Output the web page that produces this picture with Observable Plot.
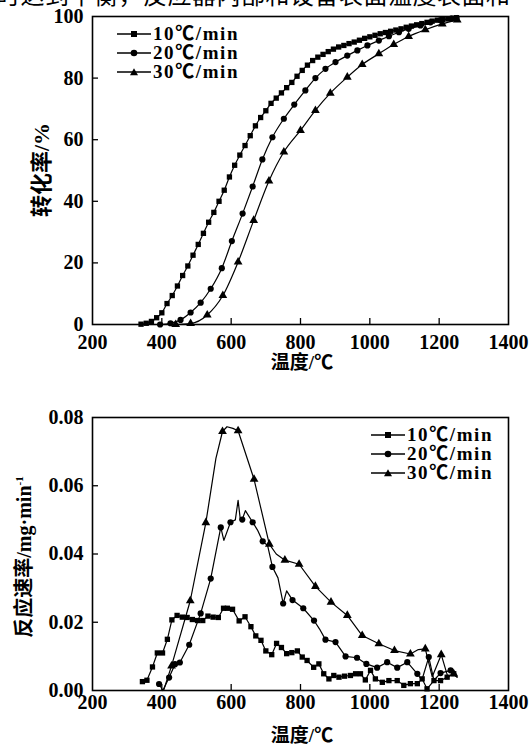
<!DOCTYPE html>
<html>
<head>
<meta charset="utf-8">
<script src="https://cdn.jsdelivr.net/npm/d3@7"></script>
<script src="https://cdn.jsdelivr.net/npm/@observablehq/plot@0.6"></script>
<style>
  html, body { margin: 0; padding: 0; background: #fff; overflow: hidden; }
  #wrap { position: relative; width: 532px; height: 745px; overflow: hidden; background: #fff; }
  .serif { font-family: "Liberation Serif", "Times New Roman", "Noto Sans CJK SC", serif; font-weight: bold; color: #000; line-height: 1; }
  .abs { position: absolute; white-space: nowrap; }
  .legend-row { display: flex; align-items: center; height: 19px; font-size: 19px; line-height: 18px; letter-spacing: 1.6px; }
  .ylab { transform: translate(-50%, -50%) rotate(-90deg); }
  .xlab { transform: translate(-50%, 0); font-size: 19px; }
  .cut { font-family: "Noto Sans CJK SC", sans-serif; font-size: 24px; line-height: 22px; height: 22px; letter-spacing: 0.5px; top: -17px; left: -4px; }
</style>
</head>
<body>
<div id="wrap"></div>
<script>
// ---------- data ----------
const xTicks = [200, 400, 600, 800, 1000, 1200, 1400];
const yTicksTop = [0, 20, 40, 60, 80, 100];
const yTicksBottom = [0, 0.02, 0.04, 0.06, 0.08];
const seriesNames = ["10℃/min", "20℃/min", "30℃/min"];
const seriesSymbols = ["square", "circle", "triangle"];

// conversion (%) vs temperature, 10 ℃/min
const tempConv10 = [340,355,370,385,400,415,430,445,460,475,490,505,520,535,550,565,580,595,610,625,640,655,670,685,700,715,730,745,760,775,790,805,820,835,850,865,880,895,910,925,940,955,970,985,1000,1015,1030,1045,1060,1075,1090,1105,1120,1135,1150,1165,1180,1195,1210,1225,1240,1250];
const conv10 = [0.1,0.4,1.0,2.2,3.8,6.8,9.4,12.5,15.9,19.0,22.5,26.0,29.6,33.2,36.4,40.0,43.6,47.9,51.7,55.0,58.1,61.3,64.5,67.2,69.4,71.8,73.5,75.2,76.9,78.6,80.6,82.5,84.2,85.7,86.8,87.7,88.6,89.4,90.1,90.6,91.2,91.7,92.3,92.9,93.4,93.9,94.4,94.8,95.2,95.6,96.0,96.5,96.9,97.3,97.7,98.1,98.5,98.8,99.0,99.2,99.4,99.6];
// 20 ℃/min
const tempConv20 = [395,425,454,483,512,541,573,602,633,662,690,719,752,782,814,843,872,901,935,964,993,1026,1055,1084,1112,1146,1175,1204,1235,1250];
const conv20 = [0.0,0.4,1.5,3.9,7.1,11.6,18.3,27.1,36.0,44.8,53.6,60.8,66.8,71.4,76.0,80.0,83.0,85.2,87.3,89.0,90.6,92.2,93.6,94.9,96.0,97.1,98.1,98.8,99.3,99.5];
// 30 ℃/min
const tempConv30 = [440,483,531,576,620,665,709,752,800,843,886,935,978,1026,1069,1112,1160,1209,1252];
const conv30 = [0.0,0.3,3.1,9.4,20.3,33.8,46.6,56.0,63.0,69.5,75.1,80.3,84.4,87.9,90.9,93.5,95.7,97.6,98.9];

// reaction rate (mg·min-1) vs temperature; markFlags: 1 = symbol drawn at that point
const tempRate10 = [344,357,373,387,402,416,429,444,459,473,488,503,518,533,548,563,578,589,604,623,640,657,671,686,700,717,731,745,760,775,791,805,819,838,853,867,882,896,911,927,944,959,973,987,1002,1016,1036,1055,1079,1098,1117,1137,1151,1165,1185,1204,1223,1242,1252];
const rate10 = [0.0026,0.0030,0.0069,0.0110,0.0110,0.0150,0.0207,0.0220,0.0215,0.0214,0.0208,0.0205,0.0205,0.0218,0.0215,0.0214,0.0241,0.0241,0.0238,0.0204,0.0216,0.0187,0.0160,0.0147,0.0116,0.0105,0.0138,0.0126,0.0108,0.0111,0.0116,0.0098,0.0088,0.0068,0.0078,0.0049,0.0034,0.0044,0.0039,0.0042,0.0044,0.0049,0.0049,0.0031,0.0059,0.0034,0.0024,0.0029,0.0029,0.0015,0.0020,0.0020,0.0034,0.0005,0.0029,0.0029,0.0039,0.0049,0.0040];
const markRate10 = [1,1,1,1,1,1,1,1,1,1,1,1,1,1,1,1,1,1,1,1,1,1,1,1,1,1,1,1,1,1,1,1,1,1,1,1,1,1,1,1,1,1,1,1,1,1,1,1,1,1,1,1,1,1,1,1,1,1,0];

const tempRate20 = [392,403,421,438,452,479,512,541,570,579,598,612,620,626,632,641,662,676,691,705,719,735,750,760,777,808,839,855,872,901,930,963,990,1021,1050,1079,1108,1137,1150,1170,1185,1204,1233,1250];
const rate20 = [0.0019,0.0000,0.0038,0.0077,0.0082,0.0134,0.0226,0.0328,0.0478,0.0440,0.0493,0.0500,0.0557,0.0505,0.0501,0.0527,0.0493,0.0470,0.0437,0.0425,0.0362,0.0330,0.0255,0.0292,0.0265,0.0241,0.0205,0.0180,0.0149,0.0142,0.0100,0.0096,0.0078,0.0067,0.0083,0.0067,0.0083,0.0049,0.0030,0.0098,0.0030,0.0051,0.0059,0.0040];
const markRate20 = [1,0,1,1,1,1,1,1,1,0,1,0,0,0,1,0,1,0,1,0,1,0,1,0,1,1,1,0,1,1,1,1,1,1,1,1,1,1,0,1,0,1,1,0];

const tempRate30 = [405,428,482,527,556,575,588,605,620,666,710,730,755,796,843,888,935,978,1026,1071,1117,1140,1160,1180,1206,1225,1242,1252];
const rate30 = [0.0000,0.0072,0.0263,0.0492,0.0680,0.0759,0.0773,0.0768,0.0761,0.0619,0.0429,0.0400,0.0382,0.0370,0.0305,0.0259,0.0220,0.0161,0.0137,0.0117,0.0107,0.0120,0.0122,0.0040,0.0105,0.0040,0.0049,0.0039];
const markRate30 = [0,1,1,1,0,1,0,0,1,1,1,0,1,1,1,1,1,1,1,1,1,0,1,0,1,0,1,0];

// ---------- build tables ----------
const zip = (t, v, s, m) => t.map((d, i) => ({t: d, v: v[i], s, m: m ? m[i] : 1}));
const convData = [
  ...zip(tempConv10, conv10, seriesNames[0]),
  ...zip(tempConv20, conv20, seriesNames[1]),
  ...zip(tempConv30, conv30, seriesNames[2])
];
const rateData = [
  ...zip(tempRate10, rate10, seriesNames[0], markRate10),
  ...zip(tempRate20, rate20, seriesNames[1], markRate20),
  ...zip(tempRate30, rate30, seriesNames[2], markRate30)
];

const font = '"Liberation Serif", "Times New Roman", serif';
const symbolScale = {domain: seriesNames, range: seriesSymbols};
const rBySeries = {"10℃/min": 2.9, "20℃/min": 3.1, "30℃/min": 3.4};

function makePlot(data, opts) {
  const fh = opts.height - opts.marginTop - opts.marginBottom;
  const fw = 532 - 92 - 24;
  return Plot.plot({
    width: 532,
    height: opts.height,
    marginLeft: 92, marginRight: 24,
    marginTop: opts.marginTop, marginBottom: opts.marginBottom,
    x: {domain: [200, 1400]},
    y: {domain: opts.yDomain},
    symbol: symbolScale,
    style: {fontFamily: font, fontWeight: "bold", fontSize: "20px", color: "#000", background: "transparent", overflow: "visible"},
    marks: [
      Plot.frame({stroke: "#000", strokeWidth: 1.6}),
      Plot.tickX(xTicks.slice(1, -1), {x: d => d, insetTop: fh - 6, stroke: "#000", strokeWidth: 1.3}),
      Plot.tickY(opts.yTicks.slice(1, -1), {y: d => d, insetRight: fw - 6, stroke: "#000", strokeWidth: 1.3}),
      Plot.axisX({ticks: xTicks, tickSize: 0, tickPadding: opts.xPad, label: null, tickFormat: d => String(d), fontSize: 20, fontWeight: "bold", fontFamily: font}),
      Plot.axisY({ticks: opts.yTicks, tickSize: 0, tickPadding: 9, label: null, tickFormat: opts.yFormat, fontSize: 20, fontWeight: "bold", fontFamily: font}),
      Plot.line(data, {x: "t", y: "v", z: "s", stroke: "#000", strokeWidth: 1.2, curve: opts.curve}),
      Plot.dot(data.filter(d => d.m === 1), {x: "t", y: "v", symbol: "s", r: d => rBySeries[d.s], fill: "#000", stroke: "none"})
    ]
  });
}

const wrap = document.getElementById("wrap");

// partially cut line of body text above the figure
const cut = document.createElement("div");
cut.className = "abs cut";
cut.textContent = "时达到平衡，反应器内部和设备表面温度表面和";
wrap.appendChild(cut);

const topPlot = makePlot(convData, {height: 370, marginTop: 16, marginBottom: 46, yDomain: [0, 100], yTicks: yTicksTop, yFormat: d => String(d), xPad: 10, curve: "monotone-x"});
topPlot.style.position = "absolute"; topPlot.style.left = "0px"; topPlot.style.top = "0px";
wrap.appendChild(topPlot);

const botPlot = makePlot(rateData, {height: 375, marginTop: 47, marginBottom: 55, yDomain: [0, 0.08], yTicks: yTicksBottom, yFormat: d3.format(".2f"), xPad: 4, curve: "linear"});
botPlot.style.position = "absolute"; botPlot.style.left = "0px"; botPlot.style.top = "370px";
wrap.appendChild(botPlot);

// axis titles
function addText(cls, text, left, top, size, html) {
  const el = document.createElement("div");
  el.className = "abs serif " + cls;
  if (html) el.innerHTML = text; else el.textContent = text;
  el.style.left = left + "px"; el.style.top = top + "px";
  el.style.fontSize = size + "px";
  wrap.appendChild(el);
}
addText("ylab", "转化率/%", 42, 170, 22);
addText("xlab", "温度/℃", 302, 353, 19);
addText("ylab", "反应速率/mg·min<sup style=\"font-size:11px;vertical-align:8px\">-1</sup>", 24, 557, 20, true);
addText("xlab", "温度/℃", 302, 726, 19);

// legends
function symbolSvg(sym) {
  let shape = "";
  if (sym === "square") shape = '<rect x="14" y="6" width="6" height="6" fill="#000"/>';
  if (sym === "circle") shape = '<circle cx="17" cy="9" r="3.3" fill="#000"/>';
  if (sym === "triangle") shape = '<path d="M17,5.2 L21,12.2 L13,12.2 Z" fill="#000"/>';
  return '<svg width="34" height="18" style="margin-right:2px"><line x1="0" x2="34" y1="9" y2="9" stroke="#000" stroke-width="1.3"/>' + shape + '</svg>';
}
function addLegend(left, top) {
  const box = document.createElement("div");
  box.className = "abs serif";
  box.style.left = left + "px"; box.style.top = top + "px";
  seriesNames.forEach((name, i) => {
    const row = document.createElement("div");
    row.className = "legend-row";
    row.innerHTML = symbolSvg(seriesSymbols[i]) + "<span>" + name + "</span>";
    box.appendChild(row);
  });
  wrap.appendChild(box);
}
addLegend(117, 24);
addLegend(371, 425);
</script>
</body>
</html>
